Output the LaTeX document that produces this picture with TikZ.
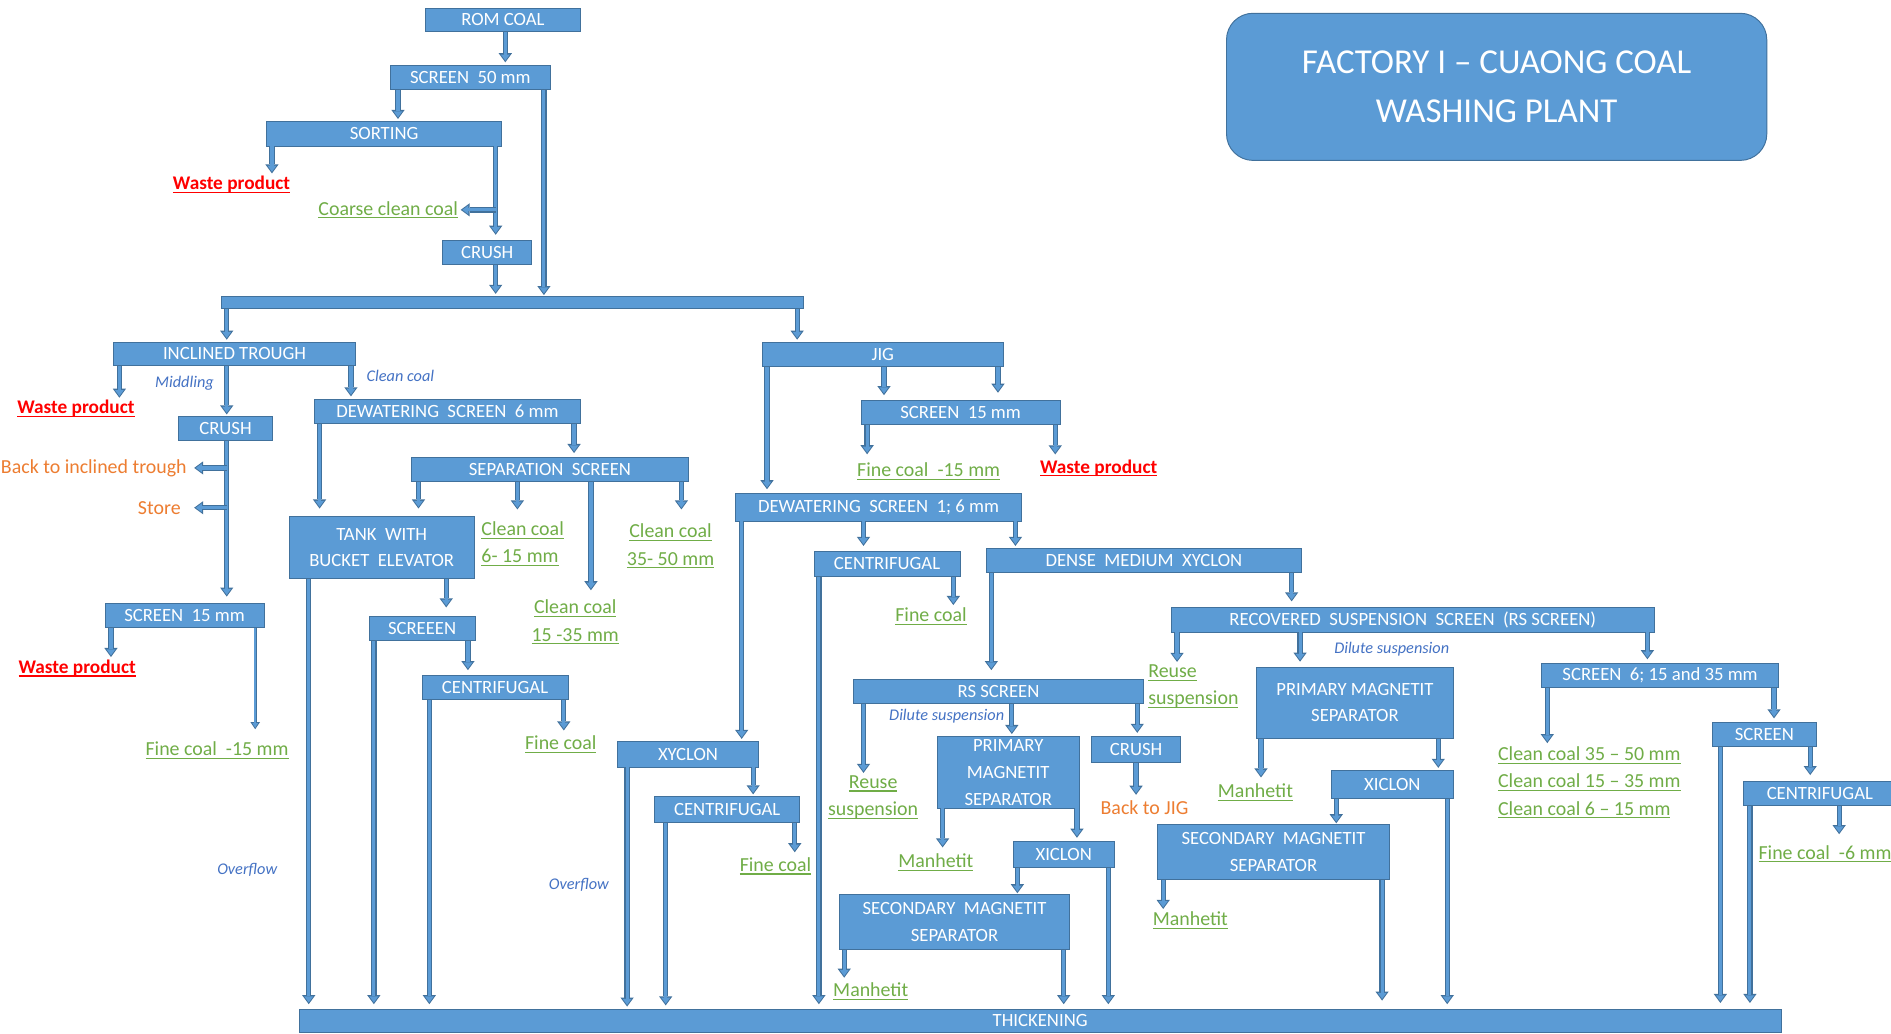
\documentclass[tikz,border=0pt]{standalone}
\usepackage{fontspec}
\setmainfont{Carlito}
\usetikzlibrary{arrows.meta}
\newcommand\uline[1]{\leavevmode\setbox0=\hbox{#1}\rlap{\rule[-2.8pt]{\wd0}{1pt}}\box0}
\definecolor{boxfill}{HTML}{5B9BD5}
\definecolor{boxdraw}{HTML}{41719C}
\definecolor{arrout}{HTML}{41719C}
\definecolor{gtext}{HTML}{70AD47}
\definecolor{rtext}{HTML}{FF0000}
\definecolor{otext}{HTML}{ED7D31}
\definecolor{btext}{HTML}{4472C4}
\newcommand\dn[4][2pt]{\draw[arr=#1] (#2.south -| #3,0) -- (#4.north -| #3,0);}
% \bx[style]{name}{x1}{y1}{x2}{y2}{text}
\newcommand\bx[7][box]{\node[#1,minimum width={#5-#3},minimum height={#6-#4}] (#2) at ({(#3+#5)/2},{(#4+#6)/2}) {#7};}
\begin{document}
\begin{tikzpicture}[x=1pt,y=-1pt,
 box/.style={fill=boxfill,draw=boxdraw,line width=0.7pt,inner sep=0pt,text=white,font=\fontsize{15.5}{22.3}\selectfont,align=center},
 titlebox/.style={fill=boxfill,draw=boxdraw,line width=0.8pt,inner sep=0pt,rounded corners=22pt,text=white,font=\fontsize{29}{40.5}\selectfont,align=center},
 glab/.style={text=gtext,font=\fontsize{16.5}{22.5}\selectfont,inner sep=2pt,align=center},
 rlab/.style={text=rtext,font=\fontsize{16}{20}\selectfont\bfseries,inner sep=2pt},
 olab/.style={text=otext,font=\fontsize{16.5}{20}\selectfont,inner sep=2pt},
 blab/.style={text=btext,font=\fontsize{13.5}{16}\selectfont\itshape,inner sep=1pt},
 arr/.style={draw=arrout,line width=4.4pt,shorten >=#1,-{Triangle[width=11pt,length=7.5pt,line width=0pt]},
   postaction={draw=boxfill,line width=2.6pt,shorten >=#1+1.4pt,-{Triangle[width=7.4pt,length=5pt,line width=0pt]}}},
 arr/.default=2pt,
 arrthin/.style={draw=arrout,line width=2.6pt,shorten >=#1,-{Triangle[width=8pt,length=6pt,line width=0pt]},
   postaction={draw=boxfill,line width=1.2pt,shorten >=#1+1.2pt,-{Triangle[width=4.6pt,length=3.8pt,line width=0pt]}}},
 arrthin/.default=2pt]
\path[use as bounding box,fill=white] (0,0) rectangle (1568,857);

% title
\bx[titlebox]{title}{1017}{11}{1465}{133}{FACTORY I – CUAONG COAL\\WASHING PLANT}

% boxes
\bx{rom}{353}{7}{481}{26}{ROM COAL}
\bx{scr50}{324}{54}{456}{74}{SCREEN~ 50 mm}
\bx{sort}{221}{101}{416}{121}{SORTING}
\bx{crushA}{367}{199}{441}{219}{CRUSH}
\bx{dist}{184}{246}{666}{256}{}
\bx{incl}{94}{284}{295}{303}{INCLINED TROUGH}
\bx{jig}{632}{284}{832}{304}{JIG}
\bx{crushB}{148}{345}{226}{365}{CRUSH}
\bx{dws6}{261}{331}{481}{351}{DEWATERING~ SCREEN~ 6 mm}
\bx{scrJ}{714}{332}{879}{352}{SCREEN~ 15 mm}
\bx{sep}{341}{379}{571}{399}{SEPARATION~ SCREEN}
\bx{dws16}{610}{409}{847}{432}{DEWATERING~ SCREEN~ 1; 6 mm}
\bx{tank}{240}{428}{393}{480}{TANK~ WITH\\BUCKET~ ELEVATOR}
\bx{centA}{675}{457}{796}{478}{CENTRIFUGAL}
\bx{dmx}{818}{455}{1079}{475}{DENSE~ MEDIUM~ XYCLON}
\bx{scrT}{87}{500}{219}{520}{SCREEN~ 15 mm}
\bx{rss}{971}{504}{1372}{524}{RECOVERED~ SUSPENSION~ SCREEN~ (RS SCREEN)}
\bx{screeen}{306}{511}{394}{531}{SCREEEN}
\bx{scr3}{1278}{550}{1475}{570}{SCREEN~ 6; 15 and 35 mm}
\bx{pmsB}{1042}{553}{1205}{612}{PRIMARY MAGNETIT\\SEPARATOR}
\bx{centB}{350}{560}{471}{580}{CENTRIFUGAL}
\bx{rsscr}{708}{563}{948}{583}{RS SCREEN}
\bx{scrR}{1420}{599}{1506}{619}{SCREEN}
\bx{pmsA}{777}{611}{895}{670}{PRIMARY\\MAGNETIT\\SEPARATOR}
\bx{crushC}{905}{611}{979}{632}{CRUSH}
\bx{xyc}{512}{615}{629}{636}{XYCLON}
\bx{xicB}{1104}{639}{1205}{662}{XICLON}
\bx{centR}{1446}{648}{1572}{668}{CENTRIFUGAL}
\bx{centC}{543}{660}{663}{682}{CENTRIFUGAL}
\bx{smsB}{960}{684}{1152}{729}{SECONDARY~ MAGNETIT\\SEPARATOR}
\bx{xicA}{840}{698}{924}{719}{XICLON}
\bx{smsA}{696}{742}{887}{787}{SECONDARY~ MAGNETIT\\SEPARATOR}
\bx{thick}{248}{837}{1477}{856}{THICKENING}

% labels
\node[rlab] (w1) at (192,153) {\uline{Waste product}};
\node[glab,anchor=east] (coarse) at (382,174) {\uline{Coarse clean coal}};
\node[rlab] (w2) at (63,339) {\uline{Waste product}};
\node[blab] (midd) at (153,318) {Middling};
\node[blab] (cleanc) at (332,312) {Clean coal};
\node[olab,anchor=east] (backIT) at (157,388) {Back to inclined trough};
\node[olab,anchor=east] (store) at (152,421) {Store};
\node[glab] (f15a) at (770,391) {\uline{Fine coal~ -15 mm}};
\node[rlab] (w3) at (911,388) {\uline{Waste product}};
\node[glab,align=left,anchor=west] (cc615) at (397,451) {\uline{Clean coal}\\\uline{6- 15 mm}};
\node[glab] (cc1535) at (477,516) {\uline{Clean coal}\\\uline{15 -35 mm}};
\node[glab] (cc3550) at (556,453) {\uline{Clean coal}\\\uline{35- 50 mm}};
\node[glab] (fA) at (772,511) {\uline{Fine coal}};
\node[rlab] (w4) at (64,554) {\uline{Waste product}};
\node[glab,align=left,anchor=west] (reuseB) at (950,569) {\uline{Reuse}\\\uline{suspension}};
\node[blab] (dilB) at (1154,538) {Dilute suspension};
\node[blab] (dilA) at (785,594) {Dilute suspension};
\node[glab] (f15b) at (180,622) {\uline{Fine coal~ -15 mm}};
\node[glab] (fB) at (465,617) {\uline{Fine coal}};
\node[glab,align=left,anchor=west] (cclist) at (1240,649) {\uline{Clean coal 35 – 50 mm}\\\uline{Clean coal 15 – 35 mm}\\\uline{Clean coal 6 – 15 mm}};
\node[glab] (reuseA) at (724,661) {\uline{Reuse}\\\uline{suspension}};
\node[glab] (mA) at (776,715) {\uline{Manhetit}};
\node[glab] (mB) at (1041,657) {\uline{Manhetit}};
\node[olab] (backjig) at (949,670) {Back to JIG};
\node[glab,anchor=west] (f6) at (1456,708) {\uline{Fine coal~ -6 mm}};
\node[glab] (fC) at (643,718) {\uline{Fine coal}};
\node[blab] (ovA) at (205,721) {Overflow};
\node[blab] (ovB) at (480,734) {Overflow};
\node[glab] (mD) at (987,763) {\uline{Manhetit}};
\node[glab] (mC) at (722,822) {\uline{Manhetit}};

% connectors
\dn{rom}{419}{scr50}
\dn{scr50}{330}{sort}
\dn[1pt]{scr50}{451}{dist}
\dn[0pt]{sort}{225.5}{w1}
\dn[4pt]{sort}{411}{crushA}
\draw[arr=0pt] (coarse.east -| 411,0) -- (coarse.east);
\dn{crushA}{411}{dist}
\dn{dist}{188}{incl}
\dn{dist}{661}{jig}
\dn[0pt]{incl}{99}{w2}
\dn[1pt]{incl}{188}{crushB}
\dn[2pt]{incl}{291}{dws6}
\dn[5pt]{crushB}{188}{scrT}
\draw[arr=4pt] (backIT.east -| 188,0) -- (backIT.east);
\draw[arr=9pt] (store.east -| 188,0) -- (store.east);
\dn[6pt]{dws6}{265}{tank}
\dn[3pt]{dws6}{476}{sep}
\dn[6pt]{sep}{347}{tank}
\dn[8pt]{sep}{429}{cc615}
\dn[6pt]{sep}{490}{cc1535}
\dn[10pt]{sep}{565}{cc3550}
\dn[4pt]{tank}{256}{thick}
\dn[7pt]{tank}{370}{screeen}
\dn[0pt]{scrT}{92}{w4}
\draw[arrthin=8pt] (scrT.south -| 211.6,0) -- (f15b.north -| 211.6,0);
\dn[4pt]{screeen}{310}{thick}
\dn[4pt]{screeen}{388}{centB}
\dn[4pt]{centB}{356}{thick}
\dn[2pt]{centB}{467.5}{fB}
\dn[3pt]{jig}{636}{dws16}
\dn[4pt]{jig}{733}{scrJ}
\dn[6pt]{jig}{827.5}{scrJ}
\dn[5pt]{scrJ}{719}{f15a}
\dn[2pt]{scrJ}{875}{w3}
\dn[2pt]{dws16}{615}{xyc}
\dn[4pt]{dws16}{716}{centA}
\dn[2pt]{dws16}{842}{dmx}
\dn[4pt]{centA}{679}{thick}
\dn[0pt]{centA}{790.5}{fA}
\dn[7pt]{dmx}{822}{rsscr}
\dn[5pt]{dmx}{1071}{rss}
\dn[2pt]{xyc}{520}{thick}
\dn[1pt]{xyc}{624.5}{centC}
\dn[3pt]{centC}{552}{thick}
\dn[2pt]{centC}{659}{fC}
\dn[0pt]{rsscr}{716}{reuseA}
\dn[2pt]{rsscr}{839}{pmsA}
\dn[3pt]{rsscr}{943}{crushC}
\dn[3pt]{crushC}{942}{backjig}
\dn[3pt]{pmsA}{781.6}{mA}
\dn[3pt]{pmsA}{893}{xicA}
\dn[1pt]{xicA}{843.6}{smsA}
\dn[4pt]{xicA}{919}{thick}
\dn[2pt]{smsA}{700}{mC}
\dn[4pt]{smsA}{882}{thick}
\dn[0pt]{rss}{976}{reuseB}
\dn[4pt]{rss}{1078}{pmsB}
\dn[3pt]{rss}{1366}{scr3}
\dn[3pt]{pmsB}{1045.6}{mB}
\dn[2pt]{pmsB}{1192.6}{xicB}
\dn[1pt]{xicB}{1108}{smsB}
\dn[4pt]{xicB}{1200}{thick}
\dn[0pt]{smsB}{964.5}{mD}
\dn[7pt]{smsB}{1146}{thick}
\dn[1pt]{scr3}{1283}{cclist}
\dn[3pt]{scr3}{1471}{scrR}
\dn[5pt]{scrR}{1426.5}{thick}
\dn[5pt]{scrR}{1501}{centR}
\dn[5pt]{centR}{1451}{thick}
\dn[7pt]{centR}{1525}{f6}
\end{tikzpicture}
\end{document}
